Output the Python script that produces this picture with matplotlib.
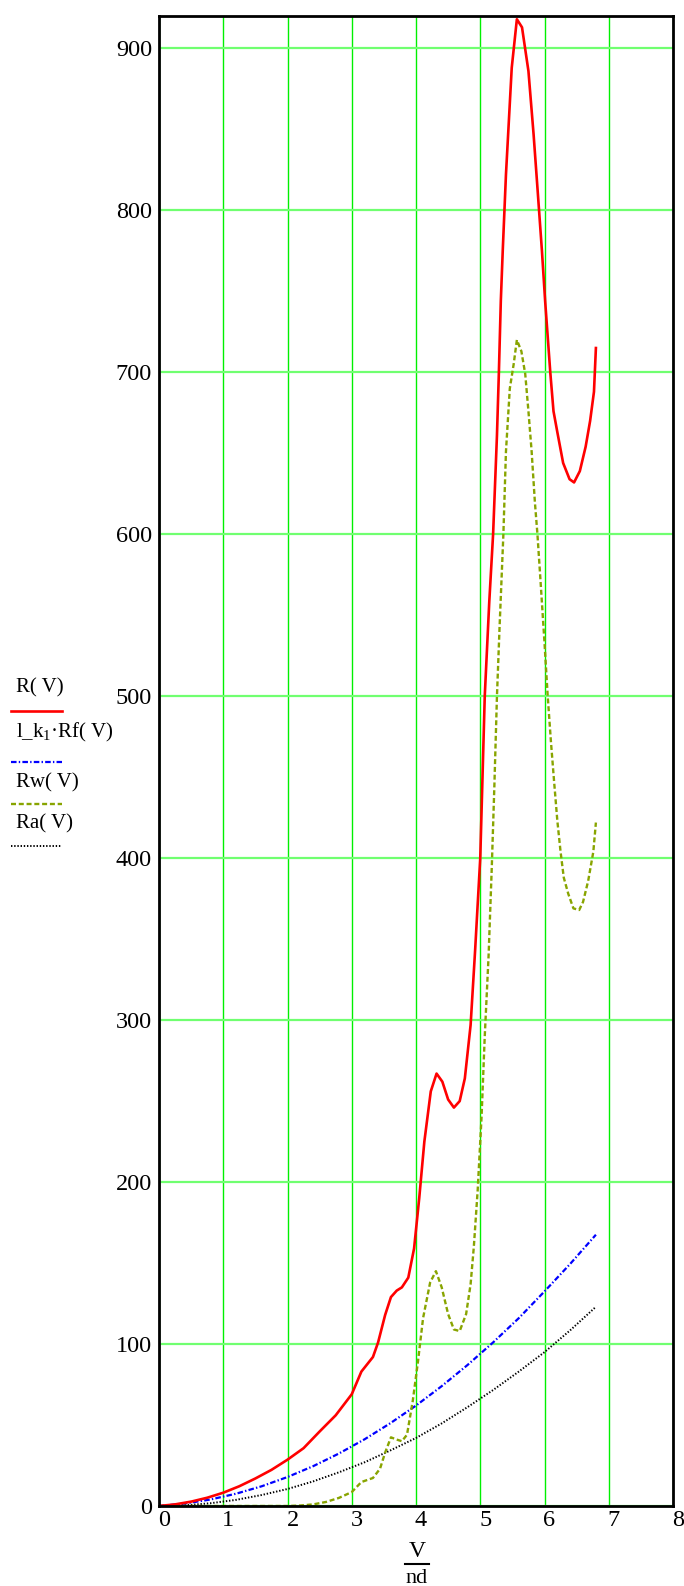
import numpy as np
import matplotlib
matplotlib.use("Agg")
import matplotlib.pyplot as plt
from matplotlib.lines import Line2D
import matplotlib.transforms as mtransforms

plt.rcParams['font.family'] = ['Liberation Serif', 'DejaVu Serif']
plt.rcParams['mathtext.fontset'] = 'custom'
plt.rcParams['mathtext.rm'] = 'Liberation Serif'
plt.rcParams['mathtext.it'] = 'Liberation Serif:italic'
plt.rcParams['lines.scale_dashes'] = False

# полное сопротивление R(V)
v_r = [0, 0.25, 0.5, 0.75, 1.0, 1.25, 1.5, 1.75, 2.0, 2.25, 2.5, 2.75, 3.0,
       3.15, 3.33, 3.41, 3.52, 3.61, 3.7, 3.78,
       3.88, 3.97, 4.05, 4.13, 4.23, 4.32, 4.41, 4.5, 4.59, 4.68, 4.76, 4.85,
       4.92, 5.0, 5.07, 5.14, 5.2, 5.26, 5.29, 5.32, 5.35, 5.4, 5.49, 5.57,
       5.65, 5.75, 5.83, 5.89, 5.96, 6.01, 6.09, 6.14, 6.2, 6.29, 6.39, 6.46,
       6.55, 6.64, 6.71, 6.77, 6.8]
r_total = [0, 1.0, 2.7, 5.1, 8.2, 12.2, 17, 22.3, 28.6, 35.7, 46, 56, 69,
           83, 92, 101, 118, 129, 133, 135,
           141, 159, 190, 225, 256, 267, 262, 251, 246, 250, 264, 297,
           343, 400, 500, 558, 600, 661, 700, 744, 775, 822, 888, 918,
           913, 886, 847, 814, 775, 744, 700, 676, 663, 644, 634, 632,
           639, 654, 670, 688, 715]

# l_k1*Rf(V)
v_f = [0, 0.4, 0.8, 1.2, 1.6, 2.0, 2.4, 2.8, 3.2, 3.6, 4.0, 4.4, 4.8, 5.2,
       5.6, 6.0, 6.4, 6.8]
r_f = [0, 1.5, 4.0, 7.6, 12.2, 17.9, 24.6, 32.4, 41.2, 51.1, 62, 74, 87, 101,
       116, 132.5, 149.5, 167.5]

# Rw(V)
v_w = [0, 1.0, 2.0, 2.2, 2.4, 2.6, 2.8, 3.0, 3.15, 3.33, 3.44, 3.52, 3.61,
       3.7, 3.78, 3.86, 3.95, 4.03, 4.11, 4.22, 4.31, 4.4, 4.5, 4.59, 4.68,
       4.78, 4.85, 4.9, 4.96, 5.02, 5.07, 5.13, 5.18, 5.22, 5.26, 5.3, 5.36,
       5.4, 5.46, 5.52, 5.57, 5.64, 5.7, 5.75, 5.8, 5.85, 5.89, 5.94, 6.0,
       6.05, 6.1, 6.15, 6.2, 6.25, 6.3, 6.37, 6.45, 6.54, 6.6, 6.68, 6.76, 6.8]
r_w = [0, 0, 0, 0.3, 1.0, 2.5, 5.0, 8.6, 14.8, 17.3, 23, 33, 42.4,
       41, 40, 44, 65, 89, 116, 138, 145, 135, 118.5, 109, 108,
       118.5, 137, 160, 195, 240, 290, 340, 395, 445, 500, 542, 600,
       651, 690, 705, 720, 713, 699, 676, 651, 620, 600, 570, 533,
       500, 472, 447, 423, 404, 388, 378, 369, 368, 373, 386, 404, 422]

# Ra(V)
v_a = [0, 0.4, 0.8, 1.2, 1.6, 2.0, 2.4, 2.8, 3.2, 3.6, 4.0, 4.4, 4.8, 5.2,
       5.6, 6.0, 6.4, 6.8]
r_a = [0, 0.4, 1.7, 3.8, 6.8, 10.5, 15.2, 20.8, 27, 34.3, 42, 51, 61, 71.6,
       83, 95, 108.5, 123]

x_ticks = list(range(0, 9))
y_ticks = list(range(0, 1000, 100))

W, H = 684, 1586
fig = plt.figure(figsize=(W / 100, H / 100), dpi=100)
ax = fig.add_axes([159 / W, 80 / H, 514 / W, 1490 / H])

ax.set_xlim(0, 8)
ax.set_ylim(0, 920)
ax.set_xticks(x_ticks)
ax.set_yticks(y_ticks)
ax.xaxis.grid(True, color='#00f000', lw=1.0)
ax.yaxis.grid(True, color='#70ff70', lw=1.6)
ax.set_axisbelow(True)
for s in ax.spines.values():
    s.set_linewidth(2.0)
    s.set_color('black')
ax.tick_params(length=0, labelsize=17.5)
ax.tick_params(axis='y', pad=5)
ax.tick_params(axis='x', pad=3)
# подписи по x чуть правее линий сетки
off = mtransforms.ScaledTranslation(5 / 100, 0, fig.dpi_scale_trans)
for lbl in ax.get_xticklabels():
    lbl.set_transform(lbl.get_transform() + off)

blue_style = dict(lw=1.6, dashes=(4, 1.6, 1, 1.6))
black_style = dict(lw=1.4, dashes=(1, 1.3))
olive_style = dict(lw=1.7, dashes=(3.6, 2))
red_style = dict(lw=1.9)

ax.plot(v_f, r_f, color='blue', **blue_style)
ax.plot(v_a, r_a, color='black', **black_style)
ax.plot(v_w, r_w, color='#88a400', **olive_style)
ax.plot(v_r, r_total, color='red', **red_style)

# подпись оси x в виде дроби V/nd
fig.text(417 / W, 1 - 1557 / H, 'V', ha='center', va='baseline', fontsize=17)
fig.add_artist(Line2D([405 / W, 429 / W], [1 - 1564 / H] * 2,
                      transform=fig.transFigure, color='black', lw=1.5))
fig.text(417 / W, 1 - 1583 / H, 'nd', ha='center', va='baseline', fontsize=16)

# легенда слева
legend = [
    ('R( V)', 'red', red_style, 688, 711),
    ('l_k$_1$·Rf( V)', 'blue', blue_style, 732, 762),
    ('Rw( V)', '#88a400', olive_style, 783, 804),
    ('Ra( V)', 'black', black_style, 824, 846),
]
for text, color, style, ty, ly in legend:
    fig.text(16 / W, 1 - ty / H, text, ha='left', va='center', fontsize=15)
    fig.add_artist(Line2D([11 / W, 62 / W], [1 - ly / H] * 2,
                          transform=fig.transFigure, color=color, **style))

fig.savefig('out.png', dpi=100)
